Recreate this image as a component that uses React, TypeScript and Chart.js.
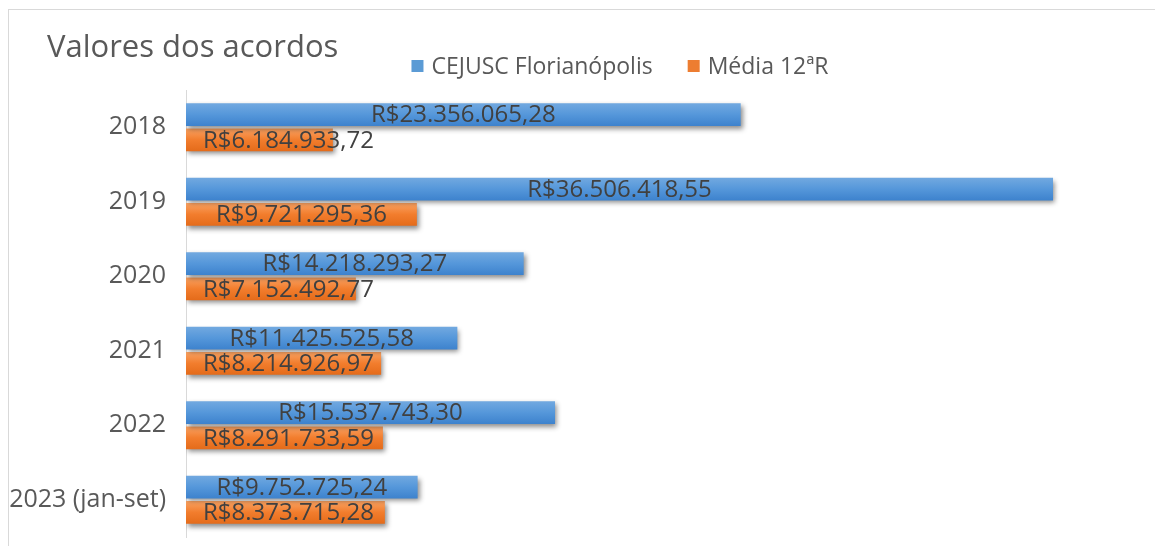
import React, { useEffect, useRef } from "react";
import { Chart, registerables } from "chart.js";

Chart.register(...registerables);

const titleText = "Valores dos acordos";
const categories = ["2018", "2019", "2020", "2021", "2022", "2023 (jan-set)"];
const seriesNames = ["CEJUSC Florianópolis", "Média 12ªR"];
const cejuscValues = [23356065.28, 36506418.55, 14218293.27, 11425525.58, 15537743.3, 9752725.24];
const mediaValues = [6184933.72, 9721295.36, 7152492.77, 8214926.97, 8291733.59, 8373715.28];
const xMin = 0;
const xMax = 40000000;

const FONT = "'Open Sans', 'Noto Sans', sans-serif";
const CAT_PCT = 0.68;
const BAR_PCT = 0.9;

function formatBRL(v: number): string {
  const fixed = v.toFixed(2);
  const [intPart, dec] = fixed.split(".");
  const withDots = intPart.replace(/\B(?=(\d{3})+(?!\d))/g, ".");
  return "R$" + withDots + "," + dec;
}

function gradientFor(stops: string[]) {
  return (ctx: any) => {
    const chart = ctx.chart;
    const y = chart.scales && chart.scales.y;
    if (!chart.chartArea || !y || ctx.dataIndex === undefined) return stops[1];
    const n = categories.length;
    const cat = (y.bottom - y.top) / n;
    const slot = (cat * CAT_PCT) / 2;
    const th = slot * BAR_PCT;
    const yc = y.getPixelForValue(ctx.dataIndex);
    const c = ctx.datasetIndex === 0 ? yc - slot / 2 : yc + slot / 2;
    const g = chart.ctx.createLinearGradient(0, c - th / 2, 0, c + th / 2);
    g.addColorStop(0, stops[0]);
    g.addColorStop(0.5, stops[1]);
    g.addColorStop(1, stops[2]);
    return g;
  };
}

const blueStops = ["#72a9e0", "#5597da", "#3d82cd"];
const orangeStops = ["#f9a262", "#f27d2d", "#e46b1a"];
const legendColors = ["#5b9bd5", "#ed7d31"];

const decorPlugin = {
  id: "decor",
  beforeDraw(chart: any) {
    const ctx = chart.ctx;
    ctx.save();
    ctx.fillStyle = "#ffffff";
    ctx.fillRect(0, 0, chart.width, chart.height);
    ctx.strokeStyle = "#d9d9d9";
    ctx.lineWidth = 1;
    ctx.strokeRect(8.5, 9.5, chart.width + 20, chart.height + 20);
    // title
    ctx.fillStyle = "#595959";
    ctx.font = `31px ${FONT}`;
    ctx.textBaseline = "middle";
    ctx.textAlign = "left";
    ctx.fillText(titleText, 47, 48);
    // legend
    ctx.font = `23px ${FONT}`;
    const sq = 12;
    const gapSq = 8;
    const gapItem = 35;
    const widths = seriesNames.map((s) => ctx.measureText(s).width);
    const total = widths.reduce((a, w) => a + sq + gapSq + w, 0) + gapItem;
    let x = 620 - total / 2;
    const ly = 66;
    seriesNames.forEach((s, i) => {
      ctx.fillStyle = legendColors[i];
      ctx.fillRect(x, ly - sq / 2, sq, sq);
      x += sq + gapSq;
      ctx.fillStyle = "#595959";
      ctx.fillText(s, x, ly + 1);
      x += widths[i] + gapItem;
    });
    ctx.restore();
  },
  beforeDatasetsDraw(chart: any) {
    const ctx = chart.ctx;
    ctx.save();
    ctx.shadowColor = "rgba(0,0,0,0.45)";
    ctx.shadowBlur = 5;
    ctx.shadowOffsetX = 2;
    ctx.shadowOffsetY = 3;
  },
  afterDatasetsDraw(chart: any) {
    const ctx = chart.ctx;
    ctx.restore();
    ctx.save();
    ctx.font = `24px ${FONT}`;
    ctx.fillStyle = "#404040";
    ctx.textBaseline = "middle";
    ctx.textAlign = "center";
    chart.data.datasets.forEach((ds: any, di: number) => {
      const meta = chart.getDatasetMeta(di);
      meta.data.forEach((el: any, i: number) => {
        const txt = formatBRL(ds.data[i]);
        const w = ctx.measureText(txt).width;
        const left = el.base;
        const right = el.x;
        let cx = (left + right) / 2;
        const minCx = left + 17 + w / 2;
        if (cx < minCx) cx = minCx;
        ctx.fillText(txt, cx, el.y + 1);
      });
    });
    ctx.restore();
  },
};

export default function App() {
  const ref = useRef<HTMLCanvasElement | null>(null);
  useEffect(() => {
    if (!ref.current) return;
    const chart = new Chart(ref.current, {
      type: "bar",
      data: {
        labels: categories,
        datasets: [
          {
            label: seriesNames[0],
            data: cejuscValues,
            backgroundColor: gradientFor(blueStops) as any,
            borderWidth: 0,
            categoryPercentage: CAT_PCT,
            barPercentage: BAR_PCT,
          },
          {
            label: seriesNames[1],
            data: mediaValues,
            backgroundColor: gradientFor(orangeStops) as any,
            borderWidth: 0,
            categoryPercentage: CAT_PCT,
            barPercentage: BAR_PCT,
          },
        ],
      },
      options: {
        indexAxis: "y",
        responsive: false,
        animation: false,
        layout: { padding: { left: 8, right: 19, top: 90, bottom: 9 } },
        plugins: {
          legend: { display: false },
          title: { display: false },
          tooltip: { enabled: false },
        },
        scales: {
          x: { display: false, min: xMin, max: xMax },
          y: {
            grid: { display: false, drawTicks: false },
            border: { display: true, color: "#d9d9d9", width: 1 },
            ticks: {
              color: "#595959",
              font: { family: FONT, size: 25 },
              padding: 20,
            },
            afterFit: (scale: any) => {
              scale.width = 178;
              scale.paddingTop = 0;
              scale.paddingBottom = 0;
            },
          },
        },
      },
      plugins: [decorPlugin],
    });
    return () => chart.destroy();
  }, []);
  return (
    <div style={{ position: "fixed", left: 0, top: 0, width: 1155, height: 546 }}>
      <canvas ref={ref} width={1155} height={546} />
    </div>
  );
}
